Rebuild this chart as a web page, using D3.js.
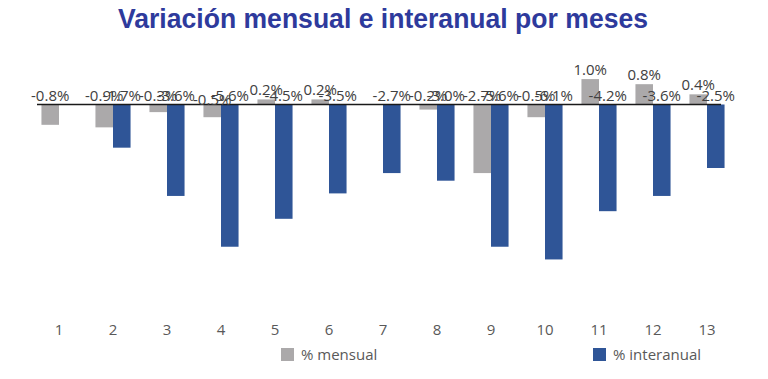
<!DOCTYPE html>
<html><head><meta charset="utf-8">
<script src="https://cdn.jsdelivr.net/npm/d3@7"></script>
<style>
html,body{margin:0;padding:0;background:#fff;}
svg{display:block;}
</style></head>
<body>
<svg id="chart" width="768" height="379"></svg>
<script>
const categories = ["1","2","3","4","5","6","7","8","9","10","11","12","13"];
const mensual =    [-0.8, -0.9, -0.3, -0.5, 0.2, 0.2, null, -0.2, -2.7, -0.5, 1.0, 0.8, 0.4];
const interanual = [null, -1.7, -3.6, -5.6, -4.5, -3.5, -2.7, -3.0, -5.6, -6.1, -4.2, -3.6, -2.5];
const seriesNames = ["% mensual", "% interanual"];
const colors = ["#ABA9AA", "#2F5597"];
const title = "Variación mensual e interanual por meses";

const svg = d3.select("#chart");

svg.append("text")
  .attr("x", 383).attr("y", 28)
  .attr("text-anchor", "middle")
  .attr("font-family", "'Liberation Sans Narrow','Arial Narrow','Liberation Sans',Arial,sans-serif")
  .attr("font-weight", "bold")
  .attr("font-size", 28)
  .attr("fill", "#2E3A9C")
  .attr("textLength", 530)
  .attr("lengthAdjust", "spacingAndGlyphs")
  .text(title);

const x = d3.scaleBand().domain(categories).range([32, 734]).paddingInner(0.35).paddingOuter(0.175);
const xs = d3.scaleBand().domain(seriesNames).range([0, x.bandwidth()]);
const y = d3.scaleLinear().domain([-6.5, 1.5]).range([104.5 + 6.5 * 25.4, 104.5 - 1.5 * 25.4]);

const series = [mensual, interanual];
series.forEach((vals, si) => {
  const g = svg.append("g");
  const data = vals.map((v, i) => ({cat: categories[i], v})).filter(d => d.v !== null);
  g.selectAll("rect").data(data).enter().append("rect")
    .attr("x", d => x(d.cat) + xs(seriesNames[si]))
    .attr("width", xs.bandwidth())
    .attr("y", d => y(Math.max(0, d.v)))
    .attr("height", d => Math.abs(y(d.v) - y(0)))
    .attr("fill", colors[si]);
});

// zero axis line
svg.append("line")
  .attr("x1", 37).attr("x2", 721)
  .attr("y1", y(0)).attr("y2", y(0))
  .attr("stroke", "#1a1a1a").attr("stroke-width", 1.5);

// data labels
series.forEach((vals, si) => {
  const data = vals.map((v, i) => ({cat: categories[i], v})).filter(d => d.v !== null);
  svg.append("g").selectAll("text").data(data).enter().append("text")
    .attr("x", d => x(d.cat) + xs(seriesNames[si]) + xs.bandwidth() / 2)
    .attr("y", d => (d.v > 0 ? y(d.v) : y(0)) - 4 + (si === 0 && d.v < 0 && d.cat === "4" ? 4 : 0))
    .attr("text-anchor", "middle")
    .attr("font-family", "'Open Sans',sans-serif")
    .attr("font-size", 15)
    .attr("fill", "#404040")
    .text(d => d.v.toFixed(1) + "%");
});

// category axis labels
const xAxis = d3.axisBottom(x).tickSize(0).tickPadding(0);
const ax = svg.append("g").attr("transform", "translate(0,330)").call(xAxis);
ax.select(".domain").remove();
ax.selectAll("text")
  .attr("dy", "0.35em")
  .attr("font-family", "'Open Sans',sans-serif")
  .attr("font-size", 15)
  .attr("fill", "#595959");

// legend
const legendPos = [{sx: 281, tx: 301}, {sx: 593, tx: 613}];
seriesNames.forEach((name, i) => {
  svg.append("rect").attr("x", legendPos[i].sx).attr("y", 348).attr("width", 13).attr("height", 13).attr("fill", colors[i]);
  svg.append("text").attr("x", legendPos[i].tx).attr("y", 355).attr("dy", "0.35em")
    .attr("font-family", "'Open Sans',sans-serif").attr("font-size", 15).attr("fill", "#595959")
    .text(name);
});
</script>
</body></html>
